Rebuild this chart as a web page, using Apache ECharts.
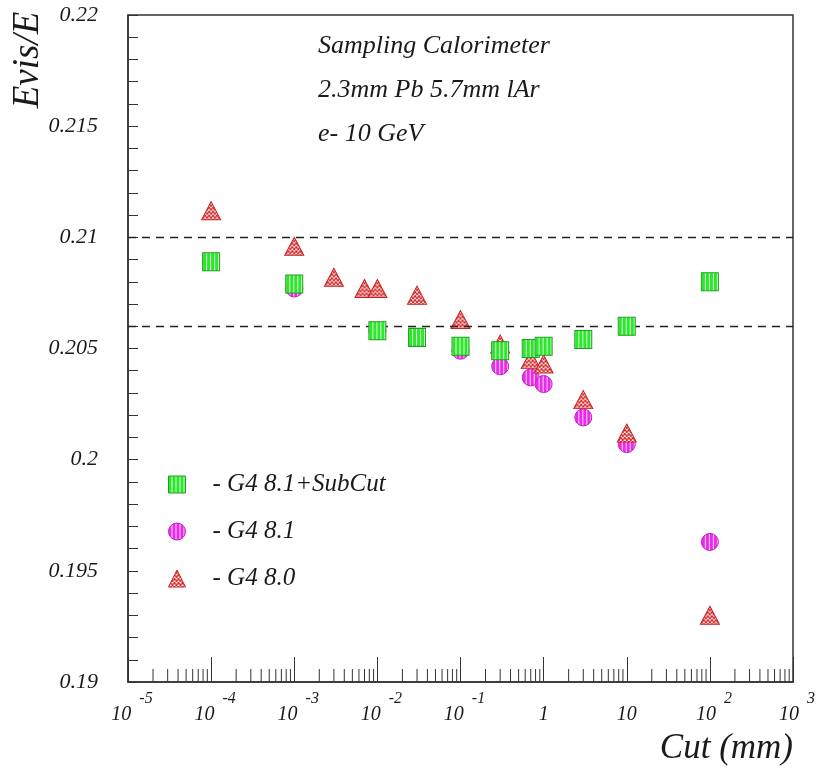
<!DOCTYPE html>
<html>
<head>
<meta charset="utf-8">
<script src="https://cdn.jsdelivr.net/npm/echarts@6/dist/echarts.min.js"></script>
<style>html,body{margin:0;padding:0;background:#fff;}#chart{width:816px;height:769px;}</style>
</head>
<body>
<div id="chart"></div>
<script>
// ---- data ----
const subCutX = [1e-4, 1e-3, 1e-2, 3e-2, 0.1, 0.3, 0.7, 1, 3, 10, 100];
const subCutY = [0.2089, 0.2079, 0.2058, 0.2055, 0.2051, 0.2049, 0.2050, 0.2051, 0.2054, 0.2060, 0.2080];
const g481X = [1e-4, 1e-3, 1e-2, 3e-2, 0.1, 0.3, 0.7, 1, 3, 10, 100];
const g481Y = [0.2089, 0.2077, 0.2058, 0.2055, 0.2049, 0.2042, 0.2037, 0.2034, 0.2019, 0.2007, 0.1963];
const g480X = [1e-4, 1e-3, 3e-3, 7e-3, 1e-2, 3e-2, 0.1, 0.3, 0.7, 1, 3, 10, 100];
const g480Y = [0.2112, 0.2096, 0.2082, 0.2077, 0.2077, 0.2074, 0.2063, 0.2052, 0.2045, 0.2043, 0.2027, 0.2012, 0.1930];
const refLines = [0.21, 0.206];
const seriesNames = ['G4 8.1+SubCut', 'G4 8.1', 'G4 8.0'];
const titleLines = ['Sampling Calorimeter', '2.3mm Pb 5.7mm lAr', 'e- 10 GeV'];
const xMin = 1e-5, xMax = 1e3, yMin = 0.19, yMax = 0.22;
const minorMultipliers = [2, 3, 4, 5, 6, 7, 8, 9];

const FONT = '"Liberation Serif", "DejaVu Serif", serif';
const TXT = '#1a1a1a';

const SQ = [17, 18], CI = 17, TR = [19, 18];

function pattern(w, h, draw, sx, sy) {
  const c = document.createElement('canvas');
  c.width = w; c.height = h;
  draw(c.getContext('2d'));
  const p = { image: c, repeat: 'repeat' };
  if (sx) { p.scaleX = sx; p.scaleY = sy; }
  return p;
}
const drawGreen = ctx => {
  ctx.fillStyle = '#2fe62f'; ctx.fillRect(0, 0, 4, 4);
  ctx.fillStyle = '#d6ffd6'; ctx.fillRect(3, 0, 1, 4);
};
const drawMagenta = ctx => {
  ctx.fillStyle = '#ea2cea'; ctx.fillRect(0, 0, 4, 4);
  ctx.fillStyle = '#ffd8ff'; ctx.fillRect(3, 0, 1, 4);
};
const drawRed = ctx => {
  ctx.fillStyle = '#ffffff'; ctx.fillRect(0, 0, 4, 4);
  ctx.strokeStyle = '#d42424'; ctx.lineWidth = 1.3;
  ctx.beginPath();
  ctx.moveTo(0, 4); ctx.lineTo(2, 0); ctx.lineTo(4, 4);
  ctx.stroke();
};
// series symbols are drawn in a 2x2 unit box scaled up by size/2: compensate
const greenPat = pattern(4, 4, drawGreen, 2 / SQ[0], 2 / SQ[1]);
const magentaPat = pattern(4, 4, drawMagenta, 2 / CI, 2 / CI);
const redPat = pattern(4, 4, drawRed, 2 / TR[0], 2 / TR[1]);
const greenPatL = pattern(4, 4, drawGreen);
const magentaPatL = pattern(4, 4, drawMagenta);
const redPatL = pattern(4, 4, drawRed);

const zip = (xs, ys) => xs.map((x, i) => [x, ys[i]]);

const minorTicks = [];
for (let e = Math.log10(xMin); e < Math.log10(xMax); e++) {
  minorMultipliers.forEach(m => minorTicks.push([m * Math.pow(10, e), yMin]));
}

const chart = echarts.init(document.getElementById('chart'), null, { renderer: 'canvas' });

const option = {
  backgroundColor: '#ffffff',
  animation: false,
  grid: { left: 128, right: 23, top: 15, bottom: 87, show: true, borderColor: '#333', borderWidth: 1.5,
          backgroundColor: 'transparent', containLabel: false, outerBoundsMode: 'none' },
  xAxis: {
    type: 'log', logBase: 10, min: xMin, max: xMax,
    axisLine: { show: true, lineStyle: { color: '#333', width: 1.5 } },
    axisTick: { show: true, inside: true, length: 25, lineStyle: { color: '#333', width: 1 } },
    splitLine: { show: false },
    axisLabel: {
      margin: 9, showMinLabel: true, showMaxLabel: true, hideOverlap: false,
      formatter: v => {
        const e = Math.round(Math.log10(v));
        if (e === 0) return '{c|1}';
        if (e === 1) return '{c|10}';
        return '{b|10}{e|' + e + '}';
      },
      rich: {
        b: { fontFamily: FONT, fontStyle: 'italic', fontSize: 20, lineHeight: 48, padding: [0, 0, 0, 8], color: TXT },
        c: { fontFamily: FONT, fontStyle: 'italic', fontSize: 20, lineHeight: 48, color: TXT },
        e: { fontFamily: FONT, fontStyle: 'italic', fontSize: 16, lineHeight: 16, padding: [0, 0, 32, 8], color: TXT }
      }
    }
  },
  yAxis: {
    type: 'value', min: yMin, max: yMax, interval: 0.005,
    axisLine: { show: true, lineStyle: { color: '#333', width: 1.5 } },
    axisTick: { show: true, inside: true, length: 10, lineStyle: { color: '#333', width: 1 } },
    minorTick: { show: true, splitNumber: 5, length: 10, lineStyle: { color: '#333', width: 1 } },
    splitLine: { show: false },
    axisLabel: {
      margin: 30, fontFamily: FONT, fontStyle: 'italic', fontSize: 22, color: TXT,
      formatter: v => String(+v.toFixed(3))
    }
  },
  legend: {
    data: [
      { name: seriesNames[0], itemStyle: { color: greenPatL, borderColor: '#1f9f1f', borderWidth: 1 } },
      { name: seriesNames[1], itemStyle: { color: magentaPatL, borderColor: '#c21cc2', borderWidth: 1 } },
      { name: seriesNames[2], itemStyle: { color: redPatL, borderColor: '#c81e1e', borderWidth: 1 } }
    ],
    orient: 'vertical', left: 163, top: 467, itemGap: 22,
    itemWidth: 17, itemHeight: 17,
    formatter: n => '- ' + n,
    textStyle: { fontFamily: FONT, fontStyle: 'italic', fontSize: 25, color: TXT, padding: [0, 0, 0, 22] }
  },
  graphic: [
    ...titleLines.map((t, i) => ({
      type: 'text', left: 318, top: 33 + i * 44, silent: true,
      style: { text: t, font: 'italic 26px ' + FONT, fill: TXT }
    })),
    { type: 'text', x: 28, y: 60, rotation: Math.PI / 2, silent: true,
      style: { text: 'Evis/E', font: 'italic 37px ' + FONT, fill: TXT, textAlign: 'center', textVerticalAlign: 'middle' } },
    { type: 'text', right: 23, top: 731, silent: true,
      style: { text: 'Cut (mm)', font: 'italic 35px ' + FONT, fill: TXT } }
  ],
  series: [
    {
      type: 'custom', silent: true, z: 1,
      data: minorTicks, encode: { x: 0, y: 1 },
      renderItem: (params, api) => {
        const p = api.coord([api.value(0), api.value(1)]);
        return { type: 'line', shape: { x1: p[0], y1: p[1], x2: p[0], y2: p[1] - 13 }, style: { stroke: '#333', lineWidth: 1 } };
      }
    },
    {
      name: seriesNames[1], type: 'scatter', symbol: 'circle', symbolSize: CI, z: 3,
      data: zip(g481X, g481Y),
      itemStyle: { color: magentaPat, borderColor: '#c21cc2', borderWidth: 1, opacity: 1 }
    },
    {
      name: seriesNames[2], type: 'scatter', symbol: 'triangle', symbolSize: TR, z: 4,
      data: zip(g480X, g480Y),
      itemStyle: { color: redPat, borderColor: '#c81e1e', borderWidth: 1, opacity: 1 }
    },
    {
      name: seriesNames[0], type: 'scatter', symbol: 'rect', symbolSize: SQ, z: 5,
      data: zip(subCutX, subCutY),
      itemStyle: { color: greenPat, borderColor: '#1f9f1f', borderWidth: 1, opacity: 1 },
      markLine: {
        silent: true, symbol: ['none', 'none'], label: { show: false }, precision: 4,
        lineStyle: { type: [8, 6], color: '#222', width: 1.3 },
        data: refLines.map(v => ({ yAxis: v }))
      }
    }
  ]
};
chart.setOption(option);
</script>
</body>
</html>
